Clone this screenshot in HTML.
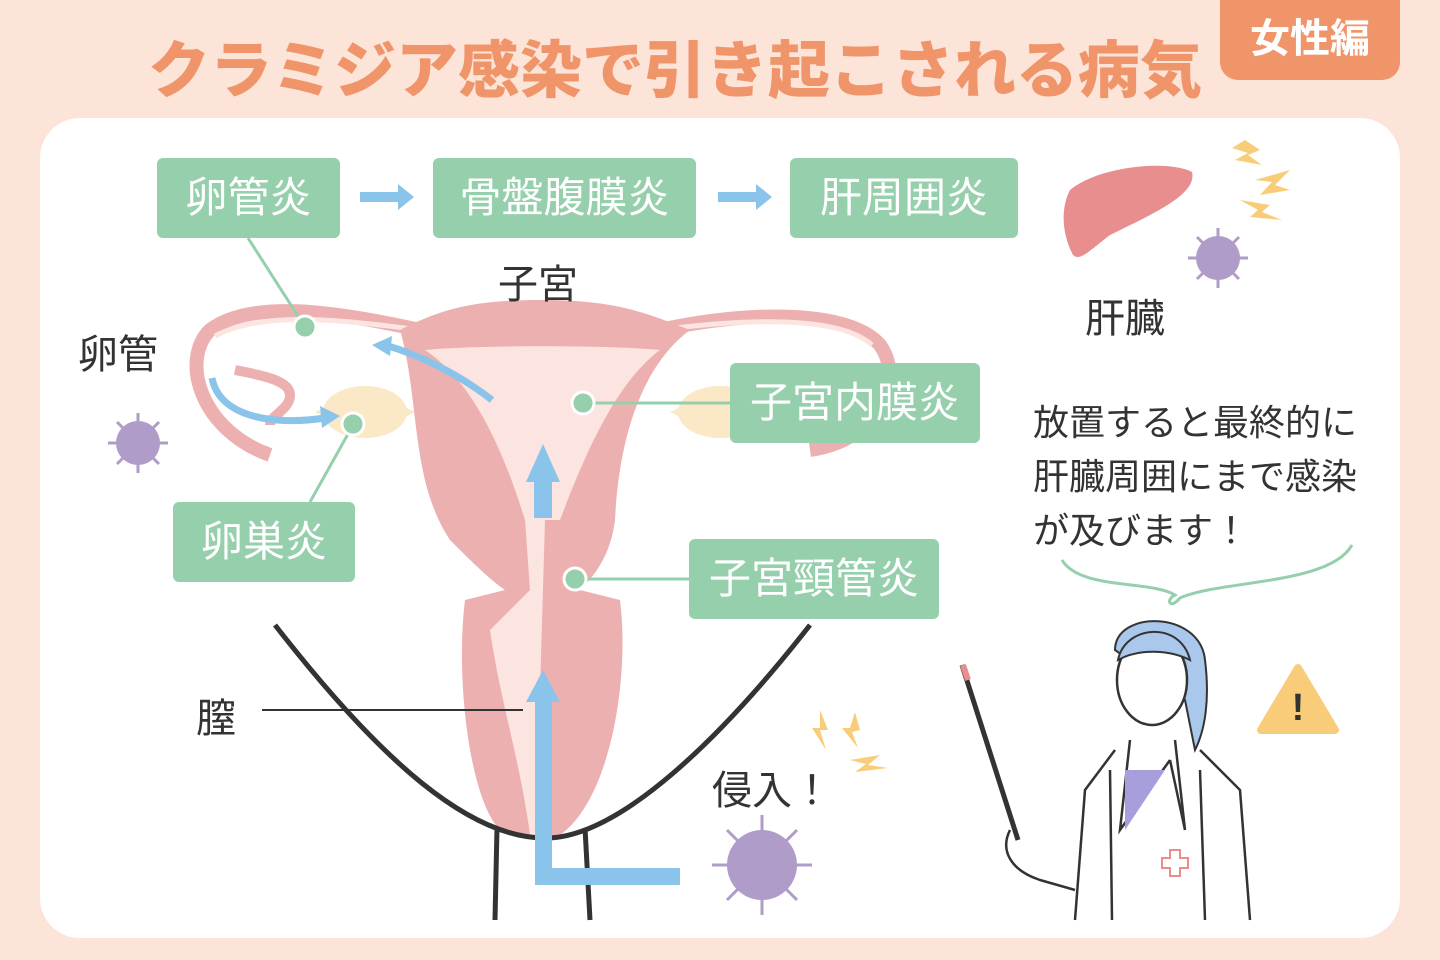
<!DOCTYPE html>
<html><head><meta charset="utf-8"><style>
body{margin:0;width:1440px;height:960px;background:#fce4d8;position:relative;overflow:hidden;font-family:"Liberation Sans","Noto Sans CJK JP",sans-serif;}
.panel{position:absolute;left:40px;top:118px;width:1360px;height:820px;background:#fff;border-radius:40px;}
.title{position:absolute;left:148px;top:20px;font-size:62px;font-weight:900;color:#f0956a;white-space:nowrap;}
.badge{position:absolute;left:1220px;top:0;width:180px;height:80px;background:#f0956a;border-radius:0 0 18px 18px;color:#fff;font-size:40px;font-weight:700;text-align:center;line-height:78px;}
.g{position:absolute;background:#96cfac;color:#fff;border-radius:6px;font-size:42px;text-align:center;line-height:80px;height:80px;}
.t{position:absolute;color:#333;font-size:40px;white-space:nowrap;}
svg{position:absolute;left:0;top:0;}
</style></head><body>
<div class="title">クラミジア感染で引き起こされる病気</div>
<div class="badge">女性編</div>
<div class="panel"></div>
<svg width="1440" height="960">
<path d="M420 330 C330 310 250 300 210 330 C180 360 200 430 270 455" fill="none" stroke="#edb0b0" stroke-width="14"/>
<path d="M660 330 C750 310 850 310 880 345 C905 380 880 440 810 450" fill="none" stroke="#edb0b0" stroke-width="14"/>
<path d="M420 330 C330 318 260 312 215 336" fill="none" stroke="#fce4e0" stroke-width="5"/>
<path d="M660 330 C750 318 840 316 872 345" fill="none" stroke="#fce4e0" stroke-width="5"/>
<path d="M235 370 C260 375 290 380 290 395 C290 410 270 415 270 425" fill="none" stroke="#edb0b0" stroke-width="10"/>
<ellipse cx="365" cy="412" rx="42" ry="26" fill="#fbe8c6"/>
<polygon points="400,405 415,412 400,420" fill="#fbe8c6"/><polygon points="330,405 315,412 330,420" fill="#fbe8c6"/>
<ellipse cx="720" cy="412" rx="42" ry="26" fill="#fbe8c6"/>
<polygon points="685,405 670,412 685,420" fill="#fbe8c6"/>
<path d="M400 330 C440 310 470 300 540 300 C610 300 640 310 690 330 C650 360 620 420 615 520 C610 560 590 580 580 590 L620 600 C630 680 610 800 560 835 C540 842 520 840 500 830 C470 800 455 680 465 600 L505 590 C490 580 470 560 450 540 C410 480 420 400 400 330 Z" fill="#edb0b0"/>
<path d="M425 350 C470 345 610 345 660 350 C620 380 590 440 560 520 L545 520 L540 690 C540 760 545 800 548 835 L530 835 C520 760 500 700 490 630 L530 590 L525 520 C500 440 470 380 425 350 Z" fill="#fce4e0"/>
<path d="M275 625 C380 760 470 840 548 838 C620 836 720 740 810 625" fill="none" stroke="#333" stroke-width="5"/>
<line x1="497" y1="828" x2="495" y2="920" stroke="#333" stroke-width="5"/>
<line x1="585" y1="828" x2="590" y2="920" stroke="#333" stroke-width="5"/>
<line x1="262" y1="710" x2="523" y2="710" stroke="#333" stroke-width="2"/>
<g fill="#8bc4ea" stroke="none">
<rect x="360" y="192" width="40" height="10"/><polygon points="398,184 414,197 398,210"/>
<rect x="718" y="192" width="40" height="10"/><polygon points="756,184 772,197 756,210"/>
<rect x="534" y="480" width="18" height="38"/><polygon points="526,482 543,444 560,482"/>
<polygon points="535,885 680,885 680,868 552,868 552,700 535,700"/>
<polygon points="526,702 543,670 560,702"/>
</g>
<path d="M492 400 C460 375 420 355 385 345" fill="none" stroke="#8bc4ea" stroke-width="7"/>
<polygon points="372,345 392,336 390,356" fill="#8bc4ea"/>
<path d="M212 378 C220 420 280 425 325 418" fill="none" stroke="#8bc4ea" stroke-width="7"/>
<polygon points="340,416 320,406 322,428" fill="#8bc4ea"/>
<g stroke="#96cfac" stroke-width="3">
<line x1="248" y1="238" x2="305" y2="327"/><line x1="353" y1="425" x2="310" y2="502"/>
<line x1="583" y1="403" x2="730" y2="403"/><line x1="575" y1="579" x2="689" y2="579"/>
</g>
<g fill="#96cfac" stroke="#fff" stroke-width="3">
<circle cx="305" cy="327" r="11"/><circle cx="353" cy="424" r="11"/><circle cx="583" cy="403" r="11"/><circle cx="575" cy="579" r="11"/>
</g>
<path d="M1070 190 C1100 165 1170 160 1192 172 C1198 195 1150 215 1110 235 C1090 250 1080 262 1073 255 C1060 230 1062 205 1070 190 Z" fill="#e88e8e"/>
<g fill="#b09cc8">
<circle cx="1218" cy="258" r="22"/><circle cx="138" cy="443" r="22"/><circle cx="762" cy="865" r="35"/>
</g>
<g stroke="#b09cc8" stroke-width="3">
<path d="M1218 228v60M1188 258h60M1197 237l42 42M1239 237l-42 42"/>
<path d="M138 413v60M108 443h60M117 422l42 42M159 422l-42 42"/>
<path d="M762 815v100M712 865h100M727 830l70 70M797 830l-70 70"/>
</g>
<g fill="#f9cc7a">
<polygon points="1245,140 1260,150 1248,155 1262,165 1235,160 1248,153 1232,148"/>
<polygon points="1255,180 1290,170 1275,185 1290,190 1260,195 1272,182"/>
<polygon points="1240,200 1270,205 1262,212 1282,220 1250,217 1258,210"/>
<polygon points="820,710 828,730 820,730 826,750 812,728 820,728"/>
<polygon points="855,712 860,730 852,732 858,748 842,728 850,728"/>
<polygon points="850,760 880,755 868,765 888,768 855,772 866,764"/>
</g>
<path d="M1062 560 C1080 590 1150 580 1175 595 C1165 600 1170 610 1180 598 C1220 580 1330 585 1352 545" fill="none" stroke="#96cfac" stroke-width="3"/>
<polygon points="1298,668 1335,730 1261,730" fill="#f9cc7a" stroke="#f9cc7a" stroke-width="8" stroke-linejoin="round"/>
<text x="1298" y="720" font-size="38" font-weight="700" text-anchor="middle" fill="#333" font-family="Liberation Sans">!</text>
<g fill="none" stroke="#333" stroke-width="2.5">
<line x1="962" y1="665" x2="1018" y2="840" stroke-width="5"/>
<path d="M1115 750 L1085 790 1075 920 M1200 750 L1240 790 1250 920 M1110 770 L1112 920 M1200 770 L1205 920"/>
<path d="M1130 740 L1120 830 1170 760 M1175 740 L1185 830 1170 760"/>
<path d="M1010 830 C1000 850 1010 870 1040 880 L1075 890"/>
</g>
<path d="M1125 770 L1165 770 1125 830 Z" fill="#a79fdc"/>
<path d="M1115 650 C1115 610 1200 610 1205 660 C1210 700 1205 730 1195 750 L1185 700 Z" fill="#a9c8ec" stroke="#333" stroke-width="2"/>
<ellipse cx="1152" cy="680" rx="35" ry="45" fill="#fff" stroke="#333" stroke-width="2.5"/>
<path d="M1118 660 C1125 625 1180 620 1190 660 C1170 650 1140 648 1118 660 Z" fill="#a9c8ec" stroke="#333" stroke-width="2"/>
<line x1="963" y1="665" x2="968" y2="680" stroke="#e88e8e" stroke-width="6"/>
<path d="M1170 850h10v8h8v10h-8v8h-10v-8h-8v-10h8z" fill="none" stroke="#e88e8e" stroke-width="2"/>
</svg>
<div class="g" style="left:157px;top:158px;width:183px">卵管炎</div>
<div class="g" style="left:433px;top:158px;width:263px">骨盤腹膜炎</div>
<div class="g" style="left:790px;top:158px;width:228px">肝周囲炎</div>
<div class="g" style="left:730px;top:363px;width:250px">子宮内膜炎</div>
<div class="g" style="left:173px;top:502px;width:182px">卵巣炎</div>
<div class="g" style="left:689px;top:539px;width:250px">子宮頸管炎</div>
<div class="t" style="left:78px;top:322px">卵管</div>
<div class="t" style="left:498px;top:252px">子宮</div>
<div class="t" style="left:1085px;top:286px">肝臓</div>
<div class="t" style="left:196px;top:686px">膣</div>
<div class="t" style="left:712px;top:758px">侵入！</div>
<div class="t" style="left:1033px;top:396px;font-size:36px;line-height:54px">放置すると最終的に<br>肝臓周囲にまで感染<br>が及びます！</div>
</body></html>
